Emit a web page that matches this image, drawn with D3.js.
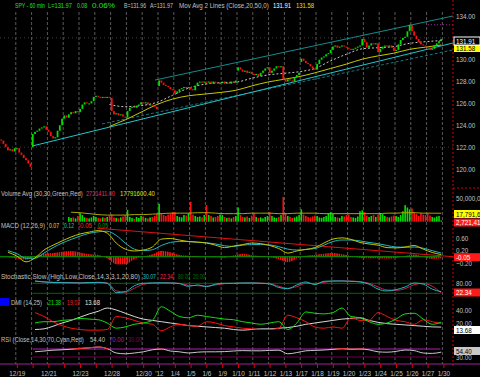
<!DOCTYPE html>
<html>
<head>
<meta charset="utf-8">
<script src="https://cdn.jsdelivr.net/npm/d3@7"></script>
<style>
body { margin: 0; background: #000; }
svg { display: block; }
</style>
</head>
<body>
<svg width="480" height="377"></svg>
<script>
const W = 480, H = 377, plotR = 453;
const FONT = '"Liberation Sans",Arial,sans-serif';
const svg = d3.select("svg").attr("font-family", FONT).attr("font-size", 8);
svg.append("rect").attr("width", W).attr("height", H).attr("fill", "#000");

// ---- data ----
const dayLabels = ["", "12/19", "", "12/21", "", "12/23", "", "12/28", "", "12/30", "'12", "1/4", "1/5", "1/6",
  "1/9", "1/10", "1/11", "1/12", "1/13", "1/17", "1/18", "1/19", "1/20", "1/23", "1/24", "1/25", "1/26", "1/27", "1/30"];
const barsPerDay = 7;

// hourly closes, 7 bars per day (12/16 .. 1/27)
const closes = [
  122.6, 122.3, 122.0, 121.7, 121.8, 121.6, 121.9,
  121.9, 121.5, 121.3, 121.0, 120.8, 120.5, 120.2,
  123.2, 123.4, 123.5, 123.7, 123.8, 123.9, 123.6,
  123.4, 123.0, 122.8, 122.9, 123.5, 124.0, 124.6,
  124.9, 124.7, 125.0, 125.2, 125.1, 125.3, 125.2,
  125.5, 125.9, 126.1, 126.0, 126.0, 126.2, 126.6,
  126.7, 126.6, 126.5, 126.6, 126.5, 126.6, 126.5,
  125.3, 125.0, 125.1, 124.9, 125.0, 124.8, 124.7,
  125.3, 125.6, 125.7, 125.6, 125.8, 125.9, 126.1,
  126.0, 126.1, 125.9, 125.9, 125.8, 125.7, 125.5,
  128.1, 127.9, 127.7, 127.6, 127.5, 127.3, 127.2,
  126.9, 127.1, 127.3, 127.4, 127.5, 127.4, 127.5,
  127.3, 127.2, 127.6, 127.9, 128.0, 127.9, 128.0,
  127.9, 128.0, 127.8, 128.0, 127.9, 127.8, 127.9,
  128.0, 127.8, 127.9, 127.8, 128.0, 127.9, 128.1,
  129.3, 129.1, 128.9, 129.0, 128.8, 128.9, 128.7,
  128.6, 128.7, 128.5, 128.8, 129.0, 129.2, 129.3,
  128.8, 129.0, 129.2, 129.4, 129.3, 129.4, 128.2,
  128.0, 128.2, 128.1, 128.0, 128.4, 128.6, 128.8,
  130.1, 129.9, 129.7, 129.6, 129.4, 129.2, 129.1,
  129.6, 130.0, 130.2, 130.3, 130.5, 130.6, 130.9,
  131.2, 131.3, 131.1, 131.2, 131.3, 131.2, 131.1,
  131.0, 130.9, 131.0, 131.1, 131.2, 131.3, 131.9,
  131.6, 131.1, 131.3, 131.5, 131.4, 131.5, 130.7,
  131.0, 131.2, 131.3, 131.2, 131.3, 131.1, 130.8,
  130.9, 131.4, 131.8, 132.0, 132.1, 132.6, 133.2,
  132.6, 132.2, 131.9, 131.6, 131.4, 131.3, 131.2,
  131.1, 130.9, 131.0, 131.3, 131.5, 131.7, 131.9
];
// opening prices of the bars that gapped
const gapOpens = { 14: 122.0, 70: 127.6, 105: 129.0, 133: 129.8 };

// moving averages, one value every 7 bars from bar 48
const ma20 = [125.9, 125.7, 125.8, 126.1, 126.75, 127.4, 127.75, 127.9, 127.95, 128.3, 128.6,
  128.75, 128.9, 129.2, 129.9, 130.5, 131.0, 131.1, 131.2, 131.5, 131.65, 131.75];
const ma50 = [123.9, 124.5, 125.2, 125.9, 126.4, 126.7, 126.85, 127.0, 127.2, 127.6, 127.95,
  128.2, 128.45, 128.8, 129.2, 129.6, 130.05, 130.35, 130.6, 130.95, 131.15, 131.35];

// trendlines [bar, price]
const channelLow = [[14.2, 122.1], [200.7, 131.53]];
const channelHigh = [[68.7, 128.14], [200.7, 134.0]];
const channelDash = [[45.2, 124.12], [200.7, 130.9]];
const peakLine = [[189.6, 133.2], [200.7, 133.2]];

// volume in millions, from bar 30
const volStart = 30;
const volumes = [
  10, 8, 9, 7, 12,
  18, 14, 9, 8, 7, 9, 12,
  10, 8, 7, 9, 8, 10, 13,
  15, 9, 8, 7, 9, 11, 14,
  25, 10, 8, 6, 10, 8, 12,
  11, 8, 7, 9, 10, 12, 16,
  38, 18, 14, 12, 15, 17, 20,
  20, 12, 10, 9, 14, 13, 18,
  42, 15, 12, 10, 11, 9, 14,
  35, 14, 12, 9, 10, 12, 15,
  14, 10, 8, 9, 7, 10, 12,
  30, 14, 10, 9, 11, 8, 13,
  18, 10, 8, 9, 7, 10, 12,
  20, 12, 9, 8, 10, 14, 52,
  18, 12, 10, 8, 9, 11, 14,
  26, 15, 12, 10, 9, 11, 13,
  12, 9, 8, 10, 12, 18, 20,
  16, 10, 9, 8, 12, 11, 14,
  15, 10, 9, 8, 11, 22, 24,
  20, 13, 10, 12, 14, 10, 15,
  18, 16, 12, 10, 9, 11, 13,
  12, 10, 14, 22, 35, 30, 26,
  28, 20, 16, 12, 18, 15, 14,
  17, 13, 10, 9, 11, 12, 2.7
];
// 30 bar volume average, every 4 bars from bar 31
const volAvg = [20, 19, 17, 15, 14, 14, 14, 15, 15, 16, 17, 18, 18, 18, 19, 19, 18, 17, 17, 17, 18,
  18, 18, 17, 17, 18, 18, 18, 17, 17, 17, 17, 17, 17, 17, 18, 18, 19, 19, 18, 18, 17.8];

// MACD, every 4 bars from bar 3
const macdLine = [0.15, 0.02, -0.17, -0.04, 0.22, 0.38, 0.52, 0.65, 0.75, 0.81, 0.86, 0.78, 0.45, 0.25,
  0.19, 0.22, 0.32, 0.58, 0.6, 0.55, 0.5, 0.48, 0.45, 0.38, 0.3, 0.35, 0.4, 0.45, 0.43, 0.37, 0.27,
  0.12, 0.19, 0.24, 0.3, 0.45, 0.58, 0.62, 0.57, 0.47, 0.42, 0.38, 0.3, 0.29, 0.32, 0.37, 0.25, 0.14, 0.07];
const macdSignal = [0.2, 0.1, -0.05, -0.05, 0.12, 0.3, 0.45, 0.57, 0.68, 0.77, 0.82, 0.84, 0.7, 0.45,
  0.25, 0.2, 0.23, 0.37, 0.47, 0.5, 0.5, 0.48, 0.46, 0.42, 0.36, 0.34, 0.38, 0.4, 0.4, 0.39, 0.33,
  0.25, 0.22, 0.24, 0.27, 0.38, 0.5, 0.55, 0.55, 0.52, 0.47, 0.43, 0.37, 0.32, 0.31, 0.32, 0.28, 0.2, 0.12];
const macdHist = [-0.02, -0.06, -0.1, 0.02, 0.1, 0.12, 0.16, 0.19, 0.14, 0.08, 0.06, -0.06, -0.25, -0.25,
  -0.08, 0.0, 0.08, 0.2, 0.15, 0.06, 0.03, 0.01, -0.01, -0.02, -0.03, 0.04, 0.1, 0.05, 0.02, -0.02, -0.08,
  -0.18, -0.06, 0.03, 0.06, 0.1, 0.12, 0.08, 0.02, -0.04, -0.05, -0.05, -0.06, -0.04, 0.02, 0.07, 0.0, -0.07, -0.05];
const macdTrend = [[43, 0.94], [200.7, 0.0]];

// stochastic, DMI, RSI: every 4 bars from bar 15
const stochK = [94, 88, 85, 84, 83, 82, 84, 86, 80, 24, 30, 65, 80, 82, 83, 82, 78, 62, 70, 60, 75, 80, 80,
  82, 82, 80, 76, 55, 48, 70, 88, 72, 92, 94, 94, 92, 88, 75, 45, 34, 42, 58, 82, 75, 45, 30];
const stochD = [92, 89, 86, 85, 84, 83, 83, 85, 82, 35, 27, 50, 74, 81, 82, 82, 80, 68, 66, 63, 70, 78, 80,
  81, 82, 81, 78, 62, 50, 60, 80, 78, 86, 93, 94, 93, 90, 80, 58, 40, 38, 48, 72, 80, 62, 22];
const adx = [10, 11, 15, 20, 24, 29, 34, 38, 43, 40, 35, 30, 26, 24, 22, 20, 18, 16, 15, 14, 13, 12, 10,
  9, 10, 11, 11, 12, 13, 15, 18, 20, 22, 24, 26, 27, 28, 24, 21, 19, 18, 17, 16, 15, 14, 13.7];
const plusDI = [20, 22, 22, 24, 25, 27, 26, 25, 20, 12, 14, 18, 20, 24, 45, 38, 30, 28, 32, 30, 28, 26, 25,
  22, 20, 18, 20, 22, 10, 20, 37, 35, 34, 36, 43, 30, 28, 22, 18, 20, 26, 34, 35, 26, 18, 21.4];
const minusDI = [36, 30, 22, 16, 12, 10, 9, 9, 10, 30, 28, 24, 20, 18, 8, 14, 18, 16, 15, 22, 20, 16, 14,
  12, 11, 10, 10, 12, 32, 28, 22, 14, 12, 14, 12, 28, 24, 24, 36, 30, 24, 22, 18, 25, 22, 19.1];
const rsi = [56, 60, 64, 66, 69, 73, 76, 80, 72, 50, 46, 50, 56, 66, 70, 60, 56, 50, 54, 56, 56, 57, 60,
  62, 61, 61, 63, 64, 46, 52, 61, 63, 65, 68, 72, 69, 70, 66, 56, 54, 58, 65, 62, 50, 48, 54.4];

// ---- scales ----
const x = d3.scaleLinear().domain([0, 200.7]).range([0, plotR]);
const priceY = d3.scaleLinear().domain([120, 134]).range([169, 16]);
const volY = d3.scaleLinear().domain([0, 50]).range([221.7, 198]);
const macdY = d3.scaleLinear().domain([-0.2, 0.6]).range([262.8, 238.5]);
const stochY = d3.scaleLinear().domain([20, 80]).range([293.3, 283.3]);
const dmiY = d3.scaleLinear().domain([20, 40]).range([323, 310]);
const rsiY = d3.scaleLinear().domain([30, 70]).range([357, 349]);

const every = (start, step, values) => values.map((v, k) => [start + k * step, v]);
const lineOf = (yScale) => d3.line().x(d => x(d[0] + 0.5)).y(d => yScale(d[1])).curve(d3.curveMonotoneX);
const straight = (yScale) => d3.line().x(d => x(d[0])).y(d => yScale(d[1]));
const lastBar = closes.length;

// squeeze a text horizontally, keeping its anchor point
function squeeze(node, s) {
  const xa = +node.getAttribute("x") || 0, ya = +node.getAttribute("y") || 0;
  d3.select(node).attr("x", 0).attr("y", 0).attr("transform", `translate(${xa},${ya}) scale(${s},1)`);
}

// ---- grid ----
const dayIdx = d3.range(1, dayLabels.length);
svg.append("g").selectAll("line").data(dayIdx).join("line")
  .attr("x1", d => x(d * barsPerDay)).attr("x2", d => x(d * barsPerDay))
  .attr("y1", 12).attr("y2", 364)
  .attr("stroke", "#5a5a5a").attr("stroke-width", 1).attr("stroke-dasharray", "3,2");
svg.append("g").selectAll("line").data([122, 132]).join("line")
  .attr("x1", 0).attr("x2", plotR).attr("y1", d => priceY(d)).attr("y2", d => priceY(d))
  .attr("stroke", "#3a3a3a").attr("stroke-dasharray", "1,3");

// ---- price panel ----
svg.append("path").attr("d", straight(priceY)(channelDash)).attr("fill", "none")
  .attr("stroke", "#0f7a7a").attr("stroke-dasharray", "3,2");
svg.append("path").attr("d", straight(priceY)(channelHigh)).attr("fill", "none").attr("stroke", "#128c8c");
svg.append("path").attr("d", straight(priceY)(channelLow)).attr("fill", "none").attr("stroke", "#22c4cc");
svg.append("path").attr("d", straight(priceY)(peakLine)).attr("fill", "none")
  .attr("stroke", "#b020b0").attr("stroke-dasharray", "1,2");
svg.append("path").attr("d", lineOf(priceY)(every(48, 7, ma50))).attr("fill", "none").attr("stroke", "#c8c800");
svg.append("path").attr("d", lineOf(priceY)(every(48, 7, ma20))).attr("fill", "none")
  .attr("stroke", "#c8c8c8").attr("stroke-dasharray", "2,2");

const bars = closes.map((c, i) => {
  const o = gapOpens[i] !== undefined ? gapOpens[i] : (i > 0 ? closes[i - 1] : c + 0.1);
  return { i, o, c, up: c >= o };
});
svg.append("g").selectAll("rect").data(bars).join("rect")
  .attr("x", d => x(d.i + 0.5) - 0.9).attr("width", 1.8)
  .attr("y", d => priceY(Math.max(d.o, d.c)))
  .attr("height", d => Math.max(1, Math.abs(priceY(d.o) - priceY(d.c))))
  .attr("fill", d => d.up ? "#00e000" : "#ff1010");

// ---- volume panel ----
svg.append("g").selectAll("rect").data(volumes).join("rect")
  .attr("x", (d, k) => x(volStart + k + 0.5) - 0.8).attr("width", 1.6)
  .attr("y", d => volY(d)).attr("height", d => volY(0) - volY(d))
  .attr("fill", (d, k) => bars[volStart + k].up ? "#00e000" : "#ff1010");
svg.append("path").attr("d", lineOf(volY)(every(31, 4, volAvg))).attr("fill", "none").attr("stroke", "#a8a800");

// ---- MACD panel ----
const defs = svg.append("defs");
defs.append("pattern").attr("id", "stripes").attr("patternUnits", "userSpaceOnUse")
  .attr("width", x(1)).attr("height", 4)
  .append("rect").attr("width", x(1) * 0.7).attr("height", 4).attr("fill", "#ff1010");
svg.append("path")
  .attr("d", d3.area().x(d => x(d[0] + 0.5)).y0(macdY(0)).y1(d => macdY(d[1])).curve(d3.curveMonotoneX)(every(3, 4, macdHist)))
  .attr("fill", "url(#stripes)");
svg.append("line").attr("x1", 0).attr("x2", x(lastBar) - 2).attr("y1", macdY(0)).attr("y2", macdY(0))
  .attr("stroke", "#00a000");
svg.append("path").attr("d", straight(macdY)(macdTrend)).attr("fill", "none").attr("stroke", "#e01010");
svg.append("path").attr("d", lineOf(macdY)(every(3, 4, macdSignal))).attr("fill", "none").attr("stroke", "#20b8c0");
svg.append("path").attr("d", lineOf(macdY)(every(3, 4, macdLine))).attr("fill", "none").attr("stroke", "#c8c800");

// ---- stochastic ----
svg.append("g").selectAll("line").data([80, 20]).join("line")
  .attr("x1", x(14.5)).attr("x2", x(lastBar) - 2).attr("y1", d => stochY(d)).attr("y2", d => stochY(d))
  .attr("stroke", "#006a00");
svg.append("path").attr("d", lineOf(stochY)(every(15, 4, stochD))).attr("fill", "none").attr("stroke", "#d02050");
svg.append("path").attr("d", lineOf(stochY)(every(15, 4, stochK))).attr("fill", "none").attr("stroke", "#20b8c0");

// ---- DMI ----
svg.append("path").attr("d", lineOf(dmiY)(every(15, 4, adx))).attr("fill", "none").attr("stroke", "#d8d8d8");
svg.append("path").attr("d", lineOf(dmiY)(every(15, 4, minusDI))).attr("fill", "none").attr("stroke", "#ff1010");
svg.append("path").attr("d", lineOf(dmiY)(every(15, 4, plusDI))).attr("fill", "none").attr("stroke", "#10e010");

// ---- RSI ----
svg.append("line").attr("x1", x(14.5)).attr("x2", x(lastBar) - 2).attr("y1", rsiY(30)).attr("y2", rsiY(30))
  .attr("stroke", "#700050");
svg.append("line").attr("x1", x(14.5)).attr("x2", x(lastBar) - 2).attr("y1", rsiY(70)).attr("y2", rsiY(70))
  .attr("stroke", "#b020b0");
defs.append("clipPath").attr("id", "ob").append("rect")
  .attr("x", 0).attr("y", 0).attr("width", plotR).attr("height", rsiY(70));
const rsiPath = lineOf(rsiY)(every(15, 4, rsi));
svg.append("path").attr("d", rsiPath).attr("fill", "none").attr("stroke", "#c8c8c8");
svg.append("path").attr("d", rsiPath).attr("fill", "none").attr("stroke", "#ff2020").attr("clip-path", "url(#ob)");

// ---- frame ----
svg.append("line").attr("x1", 0).attr("x2", W).attr("y1", 364).attr("y2", 364).attr("stroke", "#a020a0");
svg.append("line").attr("x1", plotR).attr("x2", plotR).attr("y1", 0).attr("y2", 366)
  .attr("stroke", "#d00000").attr("stroke-dasharray", "2,2");
svg.append("line").attr("x1", plotR).attr("x2", W).attr("y1", 188).attr("y2", 188)
  .attr("stroke", "#d00000").attr("stroke-dasharray", "2,2");

// ---- axes ----
function styleAxis(g, size, s) {
  g.attr("font-family", FONT).attr("font-size", size);
  g.select(".domain").remove();
  g.selectAll("text").attr("fill", "#c0c0c0").each(function () { squeeze(this, s); });
}
const xAxis = d3.axisBottom(x).tickValues(dayIdx.map(d => d * barsPerDay))
  .tickFormat(v => dayLabels[v / barsPerDay]).tickSize(4).tickPadding(2);
svg.append("g").attr("transform", "translate(1,364)").call(xAxis).call(styleAxis, 8, 0.8)
  .call(g => g.selectAll("line").attr("stroke", "#e00000"));

const rightAxis = (scale, values, fmt) => {
  svg.append("g").attr("transform", `translate(${plotR},0)`)
    .call(d3.axisRight(scale).tickValues(values).tickFormat(fmt).tickSize(0).tickPadding(3))
    .call(styleAxis, 7, 0.9);
};
rightAxis(priceY, [120, 122, 124, 126, 128, 130, 134], d3.format(".2f"));
rightAxis(volY, [50], d => d3.format(",")(d * 1e6));
rightAxis(macdY, [0.6, 0.2, -0.2], d3.format(".2f"));
rightAxis(stochY, [80], d3.format(".2f"));
rightAxis(dmiY, [40, 20], d3.format(".2f"));
rightAxis(rsiY, [30], d3.format(".2f"));

// value boxes on the axis
function box(t, cy, bg, fg, stroke) {
  svg.append("rect").attr("x", plotR + 1).attr("y", cy - 4).attr("width", W - plotR - 1).attr("height", 8)
    .attr("fill", bg).attr("stroke", stroke || "none");
  const node = svg.append("text").attr("x", plotR + 3).attr("y", cy + 2.5).attr("font-size", 7)
    .attr("fill", fg).text(t).node();
  squeeze(node, 0.9);
}
box("131.58", 48, "#ffff00", "#000");
box("131.91", 41, "#000", "#ffffff", "#ffffff");
box("17,791,600", 214, "#ffff00", "#000");
box("2,721,411", 222.5, "#ff1a1a", "#ffffff");
box("-0.05", 257.2, "#ff1a1a", "#ffffff");
box("22.34", 292.5, "#ff1a1a", "#ffffff");
box("13.68", 330, "#ffffff", "#000");
box("54.40", 351, "#c8c8c8", "#000");

// ---- titles (start and end x) ----
function txt(t, x0, x1, y0, color) {
  const node = svg.append("text").attr("x", x0).attr("y", y0).attr("fill", color).text(t).node();
  squeeze(node, (x1 - x0) / node.getComputedTextLength());
}
txt("SPY - 60 min", 15, 45, 8, "#20e020");
txt("L=131.97", 48, 72, 8, "#20e020");
txt("0.08", 77, 87, 8, "#20e020");
txt("0.06%", 92, 115, 8, "#20e020");
txt("B=131.96", 124, 146, 8, "#c0c0c0");
txt("A=131.97", 150, 173, 8, "#c0c0c0");
txt("Mov Avg 2 Lines (Close,20,50,0)", 179, 269, 8, "#c0c0c0");
txt("131.91", 273, 291, 8, "#ffffff");
txt("131.58", 296, 314, 8, "#e0e000");

txt("Volume Avg (30,30,Green,Red)", 1, 83, 196, "#c0c0c0");
txt("2721411.00", 86, 115, 196, "#ff2050");
txt("17791600.40", 120, 155, 196, "#e0e000");

txt("MACD (12,26,9)", 1, 45, 228, "#c0c0c0");
txt("0.07", 49, 59, 228, "#e0e000");
txt("0.12", 64, 74, 228, "#20c0c0");
txt("-0.05", 78, 92, 228, "#ff2020");
txt("0.05", 98, 108, 228, "#00a000");

txt("Stochastic Slow (High,Low,Close,14,3,3,1,20,80)", 1, 140, 279, "#c0c0c0");
txt("30.07", 143, 156, 279, "#20c0c0");
txt("22.34", 160, 173, 279, "#ff2050");
txt("80.00", 178, 190, 279, "#007000");
txt("20.00", 193, 205, 279, "#007000");

svg.append("rect").attr("x", 0).attr("y", 298).attr("width", 9).attr("height", 8).attr("fill", "#0000ff");
txt("DMI (14,25)", 11, 42, 305, "#c0c0c0");
txt("21.38", 48, 61, 305, "#10e010");
txt("19.07", 67, 80, 305, "#ff2020");
txt("13.68", 85, 100, 305, "#e0e0e0");

txt("RSI (Close,14,30,70,Cyan,Red)", 1, 84, 342, "#c0c0c0");
txt("54.40", 90, 105, 342, "#c0c0c0");
txt("70.00", 109, 124, 342, "#b020b0");
txt("30.00", 128, 142, 342, "#800060");
</script>
</body>
</html>
